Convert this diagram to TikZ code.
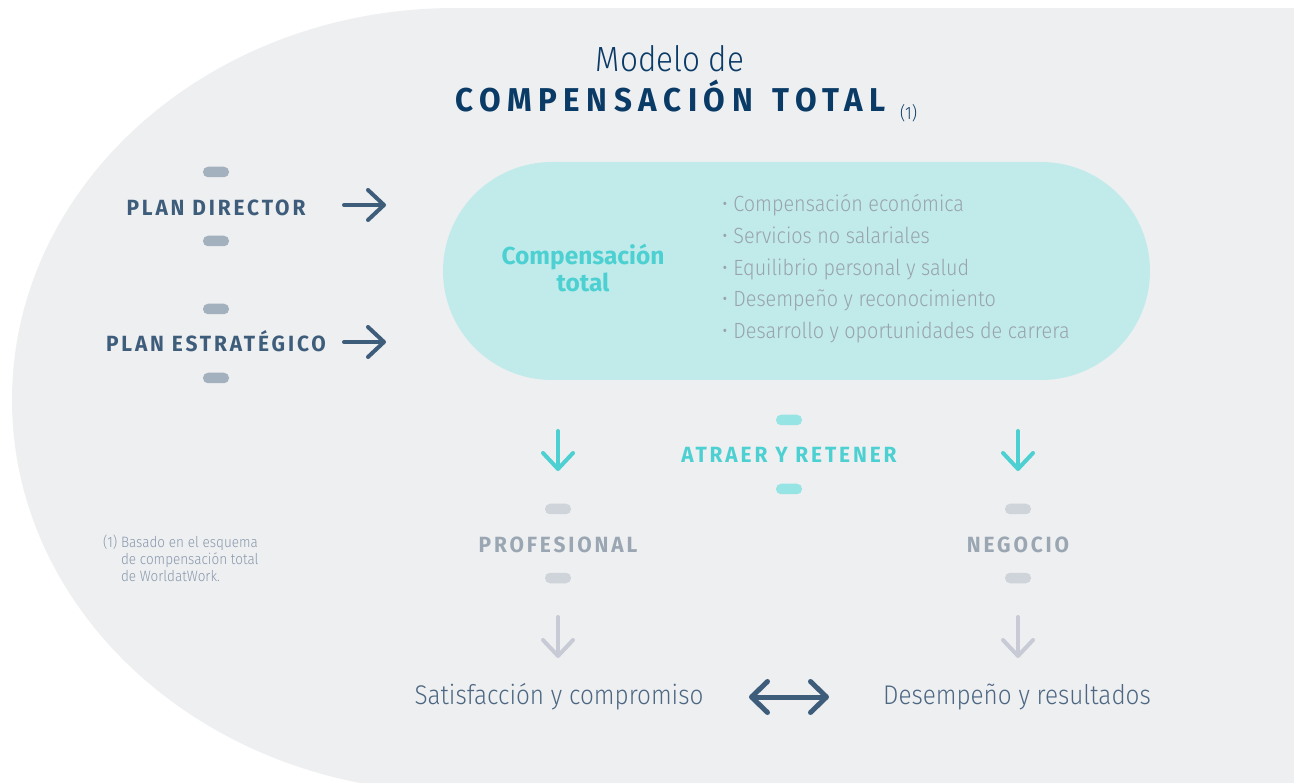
\documentclass[tikz,border=0pt]{standalone}
\usepackage{fontspec}
\setmainfont{Fira Sans}
\newfontfamily\lightfont{Fira Sans Light}[FakeStretch=0.9]
\newfontfamily\capsfont{Fira Sans}[LetterSpace=13, FakeStretch=0.95]
\usetikzlibrary{arrows.meta}

\definecolor{bgGray}{HTML}{EEEFF1}
\definecolor{pillCyan}{HTML}{C1EBEA}
\definecolor{cyanText}{HTML}{4DD0D1}
\definecolor{cyanTick}{HTML}{97E4E4}
\definecolor{titleNavy}{HTML}{0A3A66}
\definecolor{darkBlue}{HTML}{3E5D7B}
\definecolor{tickBlue}{HTML}{A3B1BE}
\definecolor{grayLabel}{HTML}{9AA7B3}
\definecolor{tickGray}{HTML}{CED4DA}
\definecolor{arrowGray}{HTML}{C8CBD6}
\definecolor{itemGray}{HTML}{99A3AD}
\definecolor{resultBlue}{HTML}{4D6782}
\definecolor{noteGray}{HTML}{8898AC}

\begin{document}
\begin{tikzpicture}[x=1pt, y=-1pt,
    tick/.style={fill=#1, rounded corners=5pt, minimum width=26pt, minimum height=10.5pt, inner sep=0pt},
    lbl/.style={font=\capsfont\bfseries\fontsize{22}{24}\selectfont, text=#1, inner sep=0pt, anchor=base},
    item/.style={font=\lightfont\fontsize{22}{24}\selectfont, text=itemGray, inner sep=0pt, anchor=base west},
    result/.style={font=\lightfont\fontsize{27}{30}\selectfont, text=resultBlue, inner sep=0pt, anchor=base},
    arr/.style={draw=#1, line width=4pt, line cap=round, -{Straight Barb[length=16pt, width=30pt, round]}}
]
\clip (0,0) rectangle (1294,783);
\fill[bgGray] (455,400) ellipse [x radius=443pt, y radius=392pt];
\fill[bgGray] (455,8) rectangle (1300,800);

\node[anchor=base, font=\lightfont\fontsize{35}{38}\selectfont, text=titleNavy, inner sep=0pt] (modelo) at (670,72) {Modelo de};
\node[anchor=base west, font=\capsfont\bfseries\addfontfeature{LetterSpace=20}\fontsize{33}{36}\selectfont, text=titleNavy, inner sep=0pt] (titulo) at (455,112) {COMPENSACIÓN\hspace{6pt} TOTAL};
\node[anchor=base west, font=\lightfont\fontsize{18}{20}\selectfont, text=titleNavy, inner sep=0pt] (ref) at (900,120) {(1)};

\node[fill=pillCyan, rounded corners=109pt, minimum width=707pt, minimum height=218pt, inner sep=0pt] (pill) at (796.5,271) {};
\node[font=\bfseries\fontsize{24.5}{27}\selectfont, text=cyanText, align=center, inner sep=0pt] (comp) at (583,268) {Compensación\\total};
\node[item] (item1) at (722,212) {• Compensación económica};
\node[item] (item2) at (722,243.6) {• Servicios no salariales};
\node[item] (item3) at (722,275.2) {• Equilibrio personal y salud};
\node[item] (item4) at (722,306.8) {• Desempeño y reconocimiento};
\node[item] (item5) at (722,338.4) {• Desarrollo y oportunidades de carrera};

\node[tick=tickBlue] (pdT) at (216,172) {};
\node[lbl=darkBlue] (pd) at (216,216) {PLAN DIRECTOR};
\node[tick=tickBlue] (pdB) at (216,241) {};
\node[tick=tickBlue] (peT) at (216,309) {};
\node[lbl=darkBlue] (pe) at (216,352) {PLAN ESTRATÉGICO};
\node[tick=tickBlue] (peB) at (216,378) {};
\coordinate (pdA1) at (344,205);
\coordinate (pdA2) at (386,205);
\coordinate (peA1) at (344,342);
\coordinate (peA2) at (386,342);
\draw[arr=darkBlue] (pdA1) -- (pdA2);
\draw[arr=darkBlue] (peA1) -- (peA2);

\node[tick=cyanTick] (atT) at (789,420) {};
\node[lbl=cyanText] (atraer) at (789,463) {ATRAER Y RETENER};
\node[tick=cyanTick] (atB) at (789,489) {};
\coordinate (profA1) at (558,431);
\coordinate (profA2) at (558,471);
\coordinate (negA1) at (1018,431);
\coordinate (negA2) at (1018,471);
\draw[arr=cyanText] (profA1) -- (profA2);
\draw[arr=cyanText] (negA1) -- (negA2);

\node[tick=tickGray] (profT) at (558,509) {};
\node[lbl=grayLabel] (prof) at (558,552) {PROFESIONAL};
\node[tick=tickGray] (profB) at (558,578) {};
\node[tick=tickGray] (negT) at (1018,509) {};
\node[lbl=grayLabel] (neg) at (1018,552) {NEGOCIO};
\node[tick=tickGray] (negB) at (1018,578) {};
\coordinate (profR1) at (558,617);
\coordinate (profR2) at (558,658);
\coordinate (negR1) at (1018,617);
\coordinate (negR2) at (1018,658);
\draw[arr=arrowGray] (profR1) -- (profR2);
\draw[arr=arrowGray] (negR1) -- (negR2);

\node[result] (sat) at (559,704) {Satisfacción y compromiso};
\node[result] (des) at (1017,704) {Desempeño y resultados};
\coordinate (dA1) at (749,697);
\coordinate (dA2) at (829,697);
\draw[darkBlue, line width=5pt, line cap=round, {Straight Barb[length=16pt, width=31pt, round]}-{Straight Barb[length=16pt, width=31pt, round]}] (dA1) -- (dA2);

\node[anchor=north west, align=left, font=\lightfont\fontsize{15}{17}\selectfont, text=noteGray, inner sep=0pt] (nota) at (103,535) {(1) Basado en el esquema\\\hphantom{(1) }de compensación total\\\hphantom{(1) }de WorldatWork.};
\end{tikzpicture}
\end{document}
